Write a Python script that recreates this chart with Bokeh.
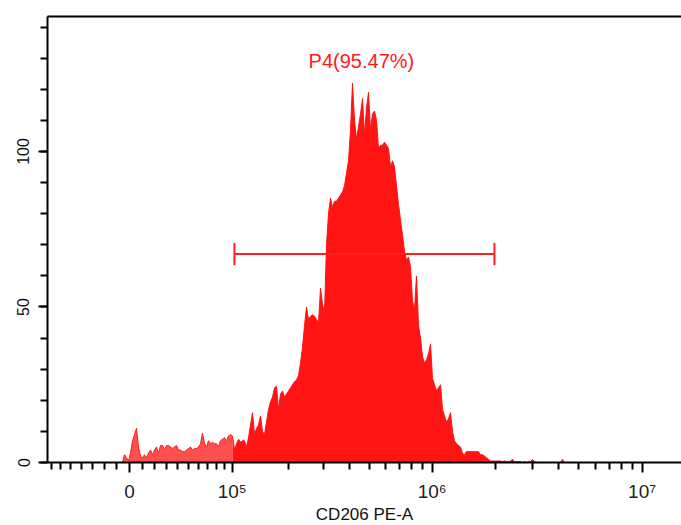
import numpy as np
from bokeh.plotting import figure
from bokeh.models import Range1d, FixedTicker, LinearAxis, CustomJSTickFormatter
from bokeh.embed import file_html
from bokeh.resources import INLINE
from bokeh.core.properties import value

# ---------------- data ----------------
# histogram counts per display bin (bins 2 display channels wide, first bin at channel -7)
bin_start = -7
bin_width = 2
counts = [
    0, 2.5, 1.5, 0.5, 3, 7, 9, 11, 5, 2,
    1.5, 2.5, 1.5, 3, 4, 2.5, 4, 5, 3, 5.5,
    5.5, 4, 5.5, 5.5, 5, 4.5, 5, 5.5, 4, 4,
    3.5, 3.5, 4, 4.5, 5, 4, 4.5, 4.5, 5, 6,
    9.5, 6, 5, 7, 6, 6.5, 6, 6, 5, 7,
    7.5, 8, 7, 8.5, 9, 8.5, 4, 6, 7.5, 6.5,
    7, 7, 5, 8, 12, 16, 9, 11, 12, 15,
    10, 9, 13, 17, 19.5, 21, 24, 24.5, 17, 22,
    23, 21, 22, 23, 24, 25, 26, 26.5, 28, 32,
    37, 44, 50, 46, 47, 47.5, 47, 46, 45, 56,
    51, 48, 70, 80, 85, 82, 84, 84, 85, 86,
    87, 89, 93, 97, 107, 122, 110, 104, 108, 112,
    117, 105, 114, 119, 107, 112, 113, 110, 101, 102,
    102, 103, 102, 101, 95, 97, 95, 89, 83, 78,
    73, 68, 65, 66, 63, 52, 49, 60, 44, 40,
    34, 32, 33, 35, 38, 27, 25, 23, 24, 25,
    17, 15, 13, 14, 16, 10, 7, 6, 5.5, 5,
    3, 2.5, 3.5, 3.5, 3.5, 3.5, 3.5, 3.5, 3.5, 2.5,
    2.5, 2, 1.5, 1, 0.5, 0.5, 0.5, 0.5, 0.5, 0.5,
    0.3, 0.5, 0.3, 0.3, 0.5, 1, 0.3, 0.3, 0.3, 0.3,
    0, 0.3, 0, 0.3, 0.3, 1, 0.3, 0, 0, 0,
    0, 0, 0, 0, 0, 0, 0, 0, 0, 0,
    1, 0,
]

x_major_values = [0, 1e5, 1e6, 1e7]
x_major_labels = ["0", "10\u2075", "10\u2076", "10\u2077"]
x_minor_values = ([-7e4, -6e4, -5e4, -4e4, -3e4, -2e4, -1e4]
                  + [1e4, 2e4, 3e4, 4e4, 5e4, 6e4, 7e4, 8e4, 9e4]
                  + [2e5, 3e5, 4e5, 5e5, 6e5, 7e5, 8e5, 9e5]
                  + [2e6, 3e6, 4e6, 5e6, 6e6, 7e6, 8e6, 9e6])
y_major_values = [0, 50, 100]
y_minor_values = [0, 10, 20, 30, 40, 50, 60, 70, 80, 90, 100, 110, 120, 130, 140]

gate_lo = 1.03e5
gate_hi = 1.98e6
gate_y = 67
gate_label = "P4(95.47%)"
gate_label_y = 129
color_split = 1e5

x_label = "CD206 PE-A"

# ---------------- display transform (biexponential-like) ----------------
def chan(v):
    return 91.2 * np.arcsinh(np.asarray(v, dtype=float) / 72460.0)

FONT = "Liberation Sans"

p = figure(frame_width=634, frame_height=446, output_backend="svg",
           toolbar_location=None, x_range=Range1d(-82, 552), y_range=Range1d(0, 143.4),
           min_border_left=47, min_border_right=0, min_border_top=16, min_border_bottom=63,
           x_axis_location=None, y_axis_location=None)
p.outline_line_color = None
p.xgrid.grid_line_color = None
p.ygrid.grid_line_color = None
p.background_fill_color = "white"
p.border_fill_color = "white"

# histogram
xs = bin_start + bin_width * np.arange(len(counts))
ys = np.asarray(counts, dtype=float)
split = float(chan(color_split))
light = xs <= split + 1
main = xs >= split - 1

p.varea(x=xs[light], y1=0, y2=ys[light], fill_color="#ff5050")
p.line(x=xs[light], y=ys[light], line_color="#ff1a1a", line_width=1)
p.varea(x=xs[main], y1=0, y2=ys[main], fill_color="#ff1414")
p.line(x=xs[main], y=ys[main], line_color="#ff1414", line_width=1)

# gate
g0, g1 = float(chan(gate_lo)), float(chan(gate_hi))
p.segment(x0=[g0], y0=[gate_y], x1=[g1], y1=[gate_y], line_color="#ff2020", line_width=2)
p.segment(x0=[g0, g1], y0=[gate_y - 3.6] * 2, x1=[g0, g1], y1=[gate_y + 3.6] * 2,
          line_color="#ff2020", line_width=2)
p.text(x=[(g0 + g1) / 2 - 3], y=[gate_label_y], text=[gate_label], text_color="#ff1a1a",
       text_font=value(FONT), text_font_size="20px", text_align="center",
       text_baseline="middle")

# axes
major_pos = [float(v) for v in chan(x_major_values)]
xaxis = LinearAxis(ticker=FixedTicker(ticks=major_pos,
                                      minor_ticks=[float(v) for v in chan(x_minor_values)]))
xaxis.formatter = CustomJSTickFormatter(args=dict(pos=major_pos, labels=x_major_labels), code="""
let best = 0;
for (let i = 0; i < pos.length; i++) {
  if (Math.abs(pos[i] - tick) < Math.abs(pos[best] - tick)) best = i;
}
return labels[best];
""")
xaxis.axis_label = x_label
xaxis.axis_label_text_font = FONT
xaxis.axis_label_text_font_style = "normal"
xaxis.axis_label_text_font_size = "17px"
xaxis.axis_label_text_color = "#111111"
xaxis.axis_label_standoff = 0
xaxis.major_label_text_font = FONT
xaxis.major_label_text_font_size = "19px"
xaxis.major_label_text_color = "#222222"
xaxis.major_label_standoff = 8
xaxis.axis_line_width = 2
xaxis.major_tick_line_width = 2
xaxis.minor_tick_line_width = 2
xaxis.major_tick_in = 0
xaxis.major_tick_out = 10
xaxis.minor_tick_in = 0
xaxis.minor_tick_out = 7
p.add_layout(xaxis, "below")

yaxis = LinearAxis(ticker=FixedTicker(ticks=y_major_values, minor_ticks=y_minor_values))
yaxis.major_label_orientation = "vertical"
yaxis.major_label_text_font = FONT
yaxis.major_label_text_font_size = "16px"
yaxis.major_label_text_color = "#111111"
yaxis.major_label_standoff = 9
yaxis.axis_line_width = 2
yaxis.major_tick_line_width = 2
yaxis.minor_tick_line_width = 2
yaxis.major_tick_in = 0
yaxis.major_tick_out = 9
yaxis.minor_tick_in = 0
yaxis.minor_tick_out = 7
p.add_layout(yaxis, "left")

top = LinearAxis(ticker=FixedTicker(ticks=[]))
top.axis_line_width = 2
top.major_tick_out = 0
top.minor_tick_out = 0
top.major_label_standoff = 0
top.major_label_text_font_size = "0px"
p.add_layout(top, "above")

open("out.html", "w").write(file_html(p, INLINE))
